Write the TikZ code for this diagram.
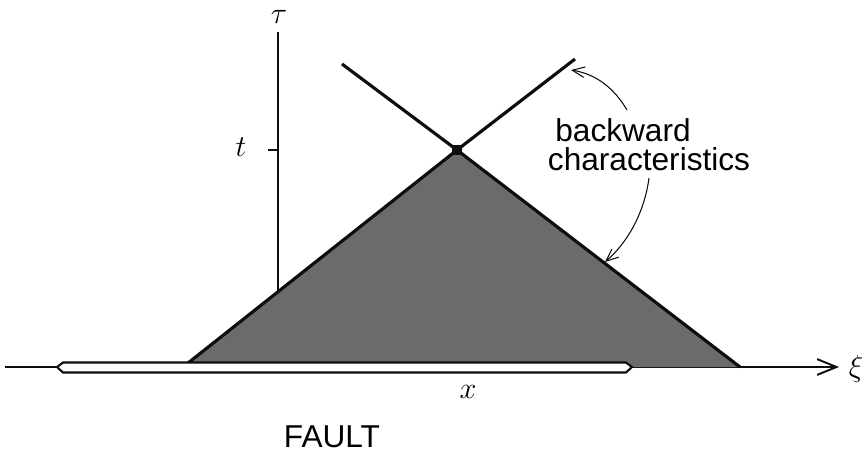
\documentclass[tikz,border=0pt]{standalone}
\usepackage{fontspec}
\setmainfont{Liberation Sans}
\usetikzlibrary{calc,arrows.meta,positioning}

\begin{document}
\begin{tikzpicture}[x=0.02cm, y=-0.02cm, >={Straight Barb[length=11pt,width=9pt]}]
    % Coordinates & parameters (pixel grid, y downwards)
    \def\axisY{367}
    \def\axisX{278}
    \def\apexX{457}
    \def\apexY{150}

    % Colors
    \definecolor{domainCol}{gray}{0.42}
    \definecolor{lineCol}{gray}{0.05}

    \tikzset{
        axisline/.style={line width=1.1pt, lineCol},
        charline/.style={line width=1.8pt, lineCol},
        pointer/.style={line width=0.6pt, lineCol, -{Straight Barb[length=7pt,width=6pt]}},
        lbl/.style={font=\fontsize{18}{20}\selectfont, inner sep=0pt},
        mathlbl/.style={font=\fontsize{19}{21}\selectfont, inner sep=0pt}
    }

    \useasboundingbox (0,0) rectangle (865,458);

    % 1. Axes
    \coordinate (O) at (\axisX,\axisY);
    \coordinate (Xstart) at (5,\axisY);
    \coordinate (Xend) at (839,\axisY);
    \coordinate (Ytop) at (\axisX,32);
    \draw[axisline] (O) -- (Ytop);
    \draw[axisline, ->] (Xstart) -- (Xend);
    \node[mathlbl] (tau) at (279,17) {$\tau$};
    \node[mathlbl] (xi) at (856,369) {$\xi$};

    % tick at t
    \coordinate (Tick) at (\axisX,\apexY);
    \draw[axisline] (Tick) -- ++(-10,0);
    \node[mathlbl] (tlbl) at (241,147) {$t$};

    % 2. Domain of dependence
    \coordinate (A) at (\apexX,\apexY);
    \coordinate (BL) at (183,\axisY);
    \coordinate (BR) at (740,\axisY);
    \fill[domainCol] (BL) -- (A) -- (BR) -- cycle;
    \draw[charline] (BL) -- (A) -- (BR);

    % backward characteristics beyond the apex
    \coordinate (CL) at (342,64);
    \coordinate (CR) at (575,59);
    \draw[charline] (A) -- (CL);
    \draw[charline] (A) -- (CR);
    \fill[lineCol] ($(A)+(-5,-5)$) rectangle ($(A)+(5,5)$);

    % 3. Fault segment
    \draw[line width=1.2pt, lineCol, fill=white]
        (57,\axisY) -- (63,362.5) -- (626,362.5) -- (632,\axisY)
        -- (626,372.5) -- (63,372.5) -- cycle;
    \node[mathlbl] (xlbl) at (468,392) {$x$};
    \node[lbl] (fault) at (332,437) {FAULT};

    % 4. Labels & pointers
    \node[lbl] (bwd) at (623,130) {backward};
    \node[lbl] (chr) at (649,159) {characteristics};
    \coordinate (CRtip) at (571,70);
    \coordinate (EdgeR) at (605,262);
    \draw[pointer] (627,110) .. controls (614,88) and (596,74) .. (CRtip);
    \draw[pointer] (649,178) .. controls (644,215) and (626,244) .. (EdgeR);
\end{tikzpicture}
\end{document}
